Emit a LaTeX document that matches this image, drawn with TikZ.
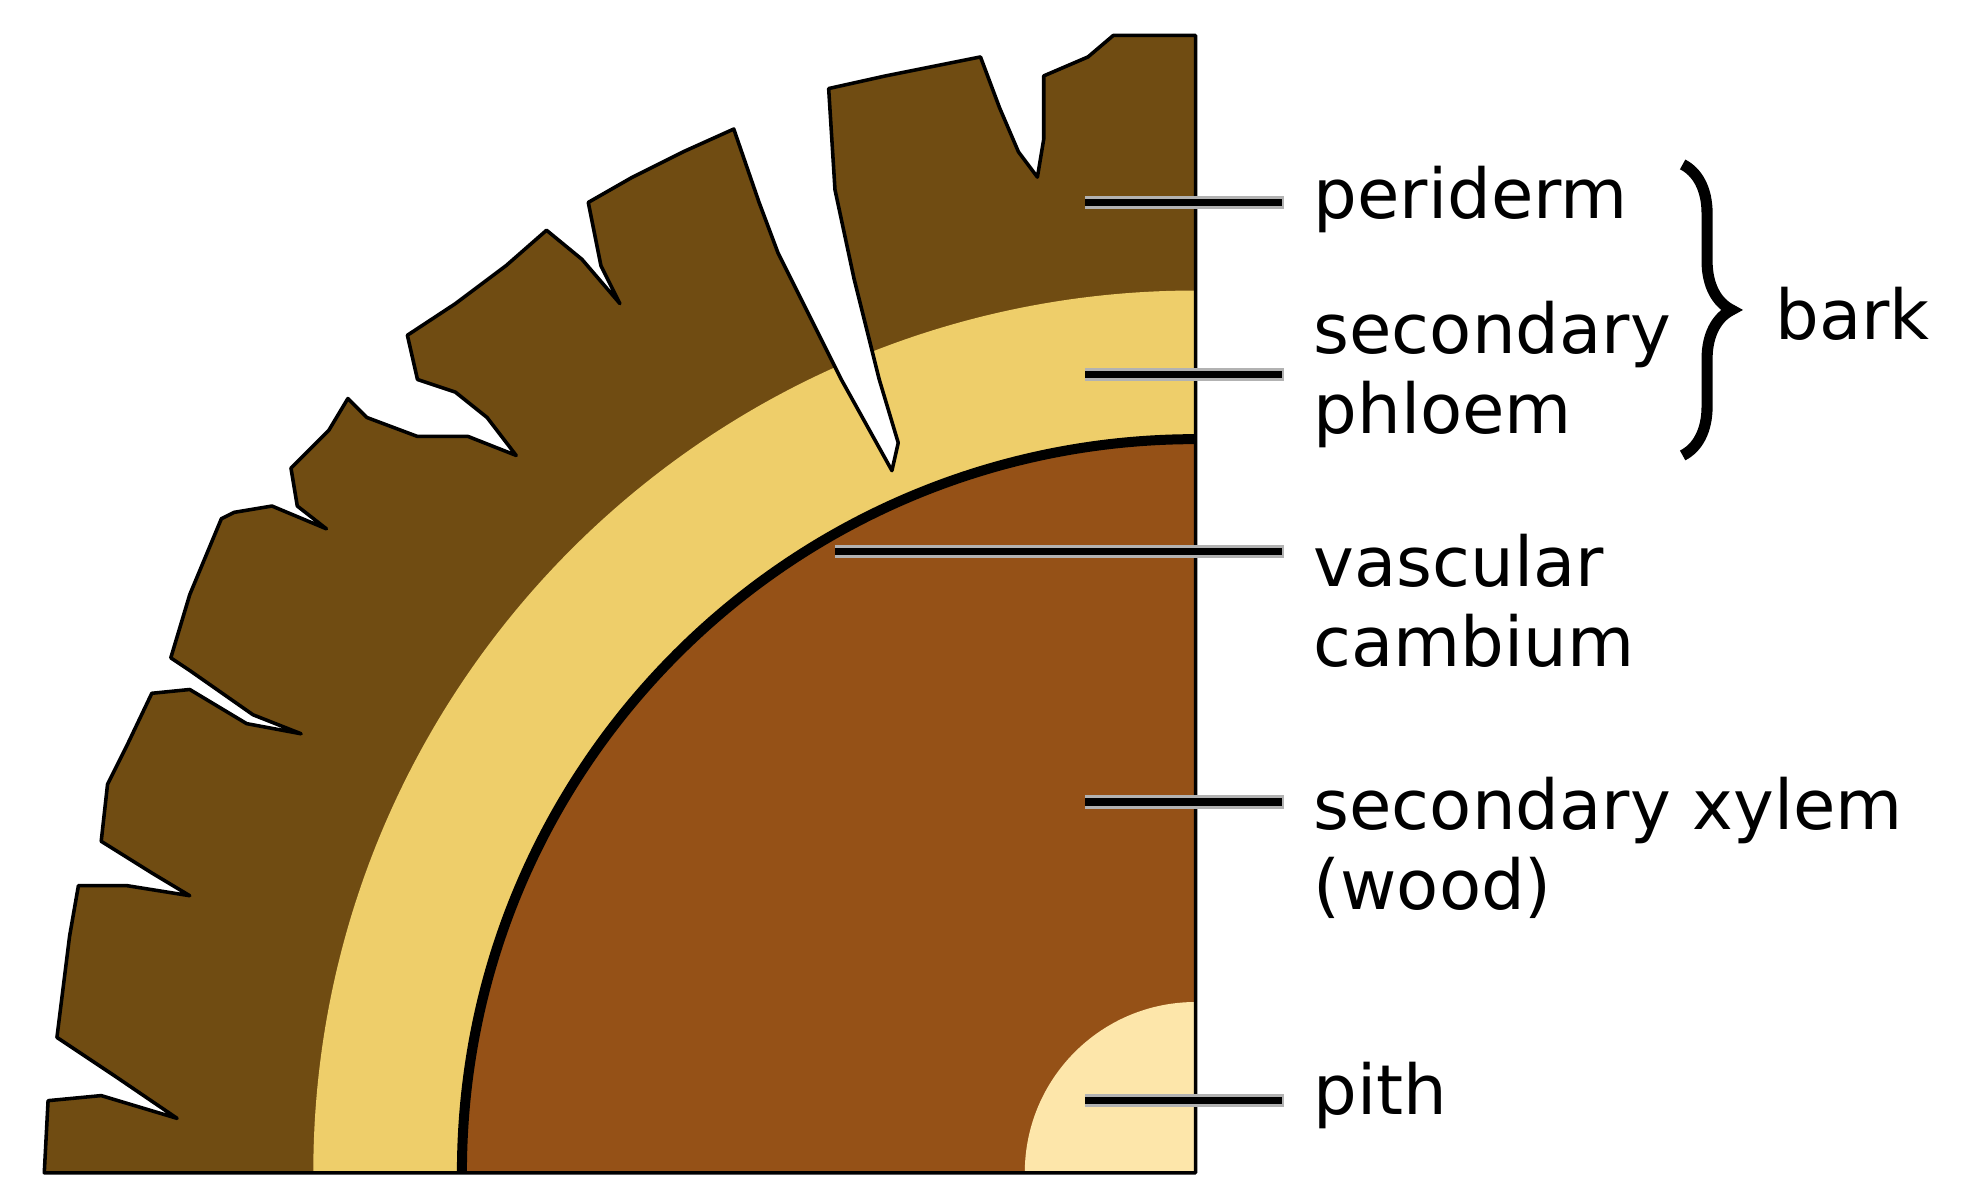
\documentclass[tikz,border=0pt]{standalone}
\usepackage{fontspec}
\setmainfont{DejaVu Sans}
\usetikzlibrary{decorations.pathreplacing,calc}
\definecolor{bark}{HTML}{704C12}
\definecolor{phl}{HTML}{EECE6A}
\definecolor{xyl}{HTML}{955117}
\definecolor{pith}{HTML}{FDE6AA}
\begin{document}
\begin{tikzpicture}[x=0.02cm,y=-0.02cm,
  lead/.style={draw=gray!60,line width=6pt},
  leadc/.style={draw=black,line width=3.4pt},
  lab/.style={anchor=west,font=\fontsize{31}{36}\selectfont,align=left,inner sep=0pt}]
\useasboundingbox (0,0) rectangle (1554,945);
\coordinate (c) at (945,927);
\def\barkpath{(35,927) -- (38,870) -- (80,866) -- (140,884) -- (90,850) -- (45,820) -- (55,740) -- (62,700) -- (100,700) -- (150,708) -- (120,690) -- (80,665) -- (85,620) -- (100,590) -- (120,548) -- (150,545) -- (195,572) -- (238,580) -- (200,565) -- (150,530) -- (135,520) -- (150,470) -- (175,410) -- (185,405) -- (215,400) -- (258,418) -- (235,400) -- (230,370) -- (260,340) -- (275,315) -- (290,330) -- (330,345) -- (370,345) -- (408,360) -- (385,330) -- (360,310) -- (330,300) -- (322,265) -- (360,240) -- (400,210) -- (432,182) -- (460,205) -- (490,240) -- (475,210) -- (465,160) -- (500,140) -- (540,120) -- (580,102) -- (600,160) -- (615,200) -- (640,250) -- (665,300) -- (690,345) -- (705,372) -- (710,350) -- (695,300) -- (675,220) -- (660,150) -- (655,70) -- (700,60) -- (760,48) -- (775,45) -- (790,85) -- (805,120) -- (820,140) -- (825,110) -- (825,60) -- (860,45) -- (880,28) -- (945,28) -- (945,927) -- cycle}
\fill[bark] \barkpath;
\begin{scope}
\clip \barkpath;
\fill[phl] (c) -- ++(180:13.95cm) arc[start angle=180,end angle=90,radius=13.95cm] -- cycle;
\end{scope}
\fill[xyl] (c) -- ++(180:11.6cm) arc[start angle=180,end angle=90,radius=11.6cm] -- cycle;
\draw[line width=4.5pt] ($(c)+(180:11.6cm)$) arc[start angle=180,end angle=90,radius=11.6cm];
\fill[pith] (c) -- ++(180:2.7cm) arc[start angle=180,end angle=90,radius=2.7cm] -- cycle;
\draw[line width=1.6pt,line join=round] \barkpath;
\foreach \a/\b/\y in {858/1015/160,858/1015/296,660/1015/436,858/1015/634,858/1015/870}{
  \draw[lead] (\a,\y) -- (\b,\y);
  \draw[leadc] (\a,\y) -- (\b-2,\y);}
\node[lab] (p) at (1038,158) {periderm};
\node[lab] (sp) at (1038,296) {secondary\\phloem};
\node[lab] (vc) at (1038,475) {vascular\\cambium};
\node[lab] (sx) at (1038,670) {secondary xylem\\(wood)};
\node[lab] (pi) at (1038,866) {pith};
\node[lab] (bk) at (1403,248) {bark};
\draw[line width=5pt,decorate,decoration={brace,amplitude=22pt}] (1330,130) -- (1330,360);
\end{tikzpicture}
\end{document}
